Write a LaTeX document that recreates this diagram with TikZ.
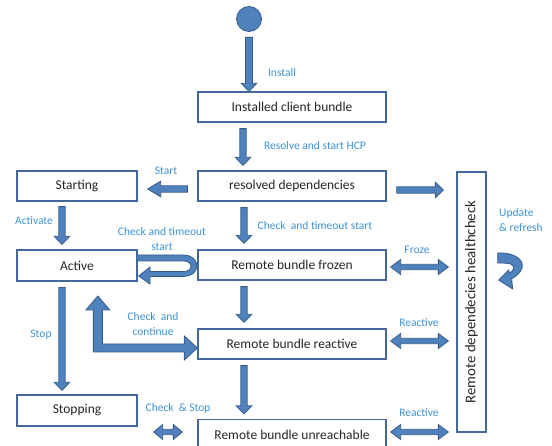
\documentclass[tikz,border=0pt]{standalone}
\usepackage{fontspec}
\setmainfont{Carlito}
\usetikzlibrary{calc}
\definecolor{afill}{RGB}{79,129,189}
\definecolor{aline}{RGB}{56,93,138}
\definecolor{bline}{RGB}{68,104,156}
\definecolor{labc}{RGB}{62,146,212}
\definecolor{txtc}{RGB}{38,38,38}
\pgfkeys{/ba/.cd, w/.initial=3.2pt, H/.initial=7.8pt, h/.initial=8pt}
\newcommand{\blockarr}[3][]{%
  \begingroup\pgfkeys{/ba/.cd,#1}%
  \edef\baw{\pgfkeysvalueof{/ba/w}}\edef\baH{\pgfkeysvalueof{/ba/H}}\edef\bah{\pgfkeysvalueof{/ba/h}}%
  \path[blk] let \p1=#2, \p2=#3, \n1={atan2(\y2-\y1,\x2-\x1)}, \n2={veclen(\x2-\x1,\y2-\y1)} in
   ($(\p1)+(\n1+90:\baw)$) -- ($(\p1)+(\n1:{\n2-\bah})+(\n1+90:\baw)$)
   -- ($(\p1)+(\n1:{\n2-\bah})+(\n1+90:\baH)$) -- (\p2)
   -- ($(\p1)+(\n1:{\n2-\bah})+(\n1-90:\baH)$) -- ($(\p1)+(\n1:{\n2-\bah})+(\n1-90:\baw)$)
   -- ($(\p1)+(\n1-90:\baw)$) -- cycle;
  \endgroup}
\newcommand{\dblockarr}[3][]{%
  \begingroup\pgfkeys{/ba/.cd,w=2.7pt,H=7.5pt,h=10pt,#1}%
  \edef\baw{\pgfkeysvalueof{/ba/w}}\edef\baH{\pgfkeysvalueof{/ba/H}}\edef\bah{\pgfkeysvalueof{/ba/h}}%
  \path[blk] let \p1=#2, \p2=#3, \n1={atan2(\y2-\y1,\x2-\x1)}, \n2={veclen(\x2-\x1,\y2-\y1)} in
   ($(\p1)+(\n1:\bah)+(\n1+90:\baw)$) -- ($(\p1)+(\n1:{\n2-\bah})+(\n1+90:\baw)$)
   -- ($(\p1)+(\n1:{\n2-\bah})+(\n1+90:\baH)$) -- (\p2)
   -- ($(\p1)+(\n1:{\n2-\bah})+(\n1-90:\baH)$) -- ($(\p1)+(\n1:{\n2-\bah})+(\n1-90:\baw)$)
   -- ($(\p1)+(\n1:\bah)+(\n1-90:\baw)$) -- ($(\p1)+(\n1:\bah)+(\n1-90:\baH)$)
   -- (\p1) -- ($(\p1)+(\n1:\bah)+(\n1+90:\baH)$) -- cycle;
  \endgroup}
\begin{document}
\begin{tikzpicture}[x=1pt,y=1pt,
  blk/.style={fill=afill,draw=aline,line width=0.8pt,line join=miter},
  box/.style={draw=bline,line width=1.3pt,fill=white,minimum height=30,inner sep=0,
    font=\fontsize{13.5}{15}\selectfont,text=txtc},
  lab/.style={text=labc,inner sep=0,font=\fontsize{11.5}{15}\selectfont}]
\useasboundingbox (0,0) rectangle (552,-446);
\clip (0,0) rectangle (552,-446);
% nodes
\node[circle,fill=afill,draw=aline,line width=0.8pt,minimum size=25,inner sep=0] (circ) at (249,-19) {};
\node[box,minimum width=188] (inst) at (292,-107) {Installed client bundle};
\node[box,minimum width=188] (res) at (292,-186) {resolved dependencies};
\node[box,minimum width=120] (stt) at (77,-186) {Starting};
\node[box,minimum width=120,minimum height=31] (act) at (77,-265.5) {Active};
\node[box,minimum width=188] (froz) at (292,-265) {Remote bundle frozen};
\node[box,minimum width=188] (react) at (292,-344) {Remote bundle reactive};
\node[box,minimum width=120,minimum height=31] (stopn) at (77,-410.5) {Stopping};
\node[box,minimum width=188] (unr) at (292,-434.5) {Remote bundle unreachable};
\node[box,minimum width=29,minimum height=260] (hc) at (471.5,-302) {};
\node[rotate=90,inner sep=0,text=txtc,font=\fontsize{14.8}{16}\selectfont] (hct) at (hc.center) {Remote dependecies healthcheck};
% straight block arrows
\blockarr[w=3.5pt]{([yshift=-5.5]circ.south)}{(circ.south |- inst.north)}
\blockarr{([xshift=-49,yshift=-6]inst.south)}{([xshift=-49,yshift=5]res.north)}
\blockarr{([xshift=-48,yshift=-6]res.south)}{([xshift=-48,yshift=6]froz.north)}
\blockarr{([xshift=-48,yshift=-6]froz.south)}{([xshift=-48,yshift=6]react.north)}
\blockarr{([xshift=-48,yshift=-6]react.south)}{([xshift=-48,yshift=5]unr.north)}
\blockarr[h=13pt]{([xshift=-10,yshift=-3]res.west)}{([xshift=10,yshift=-3]stt.east)}
\blockarr{([xshift=-15,yshift=-5]stt.south)}{([xshift=-15,yshift=5]act.north)}
\blockarr{([xshift=-15,yshift=-6]act.south)}{([xshift=-15,yshift=4]stopn.north)}
\blockarr{($(res.east)+(10,-4)$)}{($(hc.west |- res.east)+(-13,-4)$)}
% double block arrows
\dblockarr{($(froz.east)+(4,-2)$)}{($(hc.west |- froz.east)+(-8,-2)$)}
\dblockarr{($(react.east)+(4,3)$)}{($(hc.west |- react.east)+(-8,3)$)}
\dblockarr{($(unr.east)+(4,2.5)$)}{($(hc.west |- unr.east)+(-8,2.5)$)}
\dblockarr[h=9pt]{($(stopn.east |- unr.west)+(16,2.5)$)}{($(unr.west)+(-15,2.5)$)}
% L-shaped double arrow (check and continue)
\path[blk,shift={(react.west)}] (0,-4) -- (-13,8) -- (-13,0) -- (-95,0) -- (-95,34) -- (-87.5,34)
  -- (-99.5,48) -- (-111.5,34) -- (-104,34) -- (-104,-8) -- (-13,-8) -- (-13,-16) -- cycle;
% curved arrow frozen -> active
\path[blk] ($(act.east)+(-1,10.5)$) -- (184,-255) arc[start angle=90,end angle=-90,x radius=13,y radius=10.75]
  -- (150,-276.5) -- (150,-284) -- ($(act.east)+(1,-10.5)$) -- (150,-267) -- (150,-271.5)
  -- (184,-271.5) arc[start angle=-90,end angle=90,x radius=7,y radius=5.25] -- ($(act.east)+(-1,4.5)$) -- cycle;
% update & refresh curved arrow
\path[blk,shift={(hc.east)}] (11,49) .. controls (30,50) and (40,40) .. (34,31)
  .. controls (31,27) and (28,25) .. (25,23) -- (26,13) -- (12,22) -- (22,32) -- (23,29)
  .. controls (27,31) and (29,36) .. (24,38) .. controls (20,39) and (16,39) .. (11,39) -- cycle;
% labels
\node[lab] at (282,-73) {Install};
\node[lab] at (315,-146) {Resolve and start HCP};
\node[lab] at (166,-171) {Start};
\node[lab] at (34,-221) {Activate};
\node[lab,align=center] at (162,-239.5) {Check and timeout\\start};
\node[lab] at (315,-226) {Check\ \ and timeout start};
\node[lab] at (417,-250) {Froze};
\node[lab,align=left,anchor=west] at (499,-220.5) {Update\\\& refresh};
\node[lab] at (41,-335) {Stop};
\node[lab,align=center] at (153,-324.5) {Check\ \ and\\continue};
\node[lab] at (419,-323) {Reactive};
\node[lab] at (419,-413) {Reactive};
\node[lab] at (178,-408) {Check\ \ \& Stop};
\end{tikzpicture}
\end{document}
